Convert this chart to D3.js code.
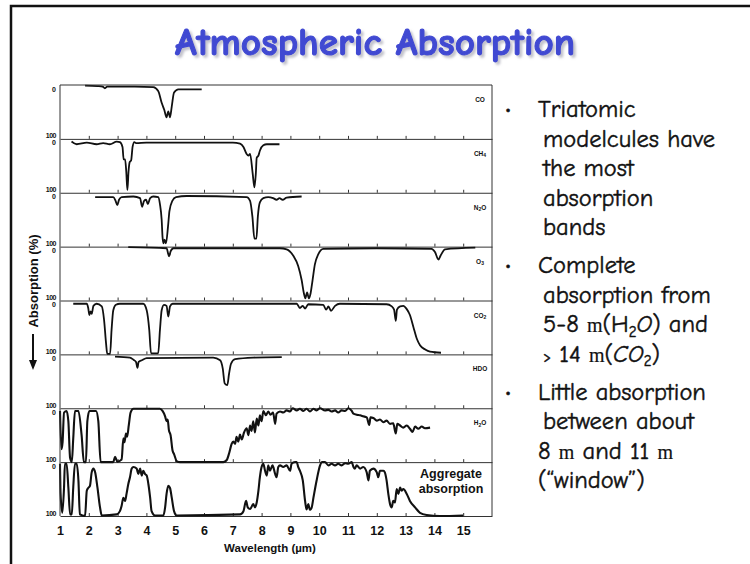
<!DOCTYPE html>
<html>
<head>
<meta charset="utf-8">
<script src="https://cdn.jsdelivr.net/npm/d3@7"></script>
<style>
  body { margin: 0; background: #fff; }
  svg { display: block; }
</style>
</head>
<body>
<svg id="slide" width="750" height="564"></svg>
<script>
/* wavelength ticks (µm) */
const wavelengthTicks = d3.range(1, 16);

/* absorption (%) vs wavelength (µm) */
const coBand = [[1.87,1],[2.3,2],[2.48,3],[2.56,6],[2.64,3],[3.0,3],[3.6,3],[4.24,4],[4.41,11],[4.53,33],[4.62,46],[4.7,60],[4.76,49],[4.82,60],[4.88,40],[4.96,14],[5.11,8],[5.5,8],[5.92,8]];
const ch4Band = [[1.40,5],[1.58,10],[1.93,7],[2.27,10],[2.5,8],[2.73,10],[2.97,5],[3.08,6],[3.17,15],[3.21,38],[3.26,38],[3.3,60],[3.34,95],[3.38,60],[3.42,43],[3.47,40],[3.52,15],[3.58,6],[3.64,8],[4.0,7],[5.0,7],[6.0,7],[7.0,7],[7.25,9],[7.37,15],[7.48,28],[7.54,31],[7.6,28],[7.69,64],[7.75,90],[7.8,64],[7.83,35],[7.89,31],[7.94,22],[8.06,12],[8.18,10],[8.62,10]];
const n2oBand = [[2.22,8],[2.85,8],[2.93,15],[2.99,23],[3.05,13],[3.14,8],[3.55,7],[3.78,10],[3.85,26],[3.92,15],[3.99,13],[4.05,21],[4.13,10],[4.24,7],[4.41,8],[4.47,21],[4.53,50],[4.56,82],[4.59,94],[4.63,87],[4.68,94],[4.75,63],[4.8,34],[4.9,15],[5.03,8],[5.4,6],[7.48,8],[7.6,15],[7.68,44],[7.75,85],[7.82,85],[7.87,44],[7.94,18],[8.06,10],[8.23,8],[8.4,10],[8.52,13],[8.62,10],[8.73,13],[8.87,9],[9.39,7]];
const o3Band = [[3.37,1],[4.7,3],[4.76,14],[4.79,18],[4.84,9],[4.94,3],[6.0,3],[8.63,3],[8.87,5],[9.1,17],[9.27,36],[9.39,62],[9.47,87],[9.52,96],[9.58,85],[9.64,96],[9.7,87],[9.77,62],[9.85,33],[9.97,14],[10.14,4],[12,3],[13.9,4],[14.02,10],[14.14,24],[14.22,16],[14.37,5],[15.42,2]];
const co2Band = [[1.46,6],[1.93,6],[1.98,14],[2.02,27],[2.06,20],[2.1,25],[2.16,10],[2.27,6],[2.45,11],[2.53,36],[2.6,80],[2.64,99],[2.74,99],[2.79,55],[2.85,18],[2.94,8],[3.08,6],[3.89,6],[4.01,18],[4.1,55],[4.16,98],[4.41,98],[4.47,55],[4.53,18],[4.61,8],[4.7,10],[4.76,30],[4.82,11],[4.91,6],[9.22,6],[9.33,14],[9.43,10],[9.51,15],[9.62,7],[10.14,8],[10.24,17],[10.32,11],[10.41,19],[10.55,10],[10.72,6],[12.34,7],[12.52,11],[12.6,17],[12.66,38],[12.7,17],[12.81,11],[12.92,10],[13.04,16],[13.15,27],[13.27,49],[13.39,71],[13.5,83],[13.68,91],[13.85,95],[14.23,97]];
const hdoBand = [[2.91,4],[3.43,6],[3.55,10],[3.64,14],[3.69,25],[3.73,14],[3.84,11],[4.01,7],[6.32,6],[6.56,11],[6.65,26],[6.72,54],[6.81,57],[6.87,36],[6.94,17],[7.08,9],[7.71,6],[8.7,5]];
const h2oBand = [[1.0,5],[1.05,76],[1.09,63],[1.14,8],[1.23,5],[1.29,24],[1.35,92],[1.41,100],[1.46,56],[1.52,5],[1.64,5],[1.75,50],[1.83,100],[1.9,100],[1.95,24],[2.02,5],[2.25,5],[2.33,24],[2.41,100],[2.85,100],[2.91,90],[2.99,99],[3.14,95],[3.2,56],[3.24,63],[3.29,47],[3.33,53],[3.39,31],[3.45,8],[3.55,1],[4.47,1],[4.56,5],[4.65,15],[4.7,24],[4.74,21],[4.78,40],[4.84,50],[4.91,79],[4.96,85],[5.05,98],[5.17,100],[6.67,100],[6.79,96],[6.88,82],[6.96,66],[7.02,62],[7.08,66],[7.13,53],[7.19,62],[7.25,49],[7.31,58],[7.39,45],[7.48,37],[7.54,50],[7.6,32],[7.65,42],[7.71,24],[7.77,45],[7.83,19],[7.89,32],[7.94,13],[8.0,24],[8.06,5],[8.15,13],[8.23,6],[8.31,12],[8.4,8],[8.47,29],[8.52,10],[8.64,6],[8.75,8],[8.87,4],[8.99,6],[9.08,0],[9.22,4],[9.33,1],[9.45,5],[9.56,1],[9.68,6],[9.8,1],[9.91,4],[10.03,0],[10.2,4],[10.32,3],[10.43,6],[10.55,4],[10.66,8],[10.78,4],[10.9,5],[11.01,0],[11.13,5],[11.19,10],[11.3,12],[11.42,13],[11.53,15],[11.65,17],[11.74,31],[11.78,17],[11.88,18],[12.0,23],[12.11,21],[12.23,26],[12.34,23],[12.46,29],[12.57,28],[12.66,47],[12.71,29],[12.81,32],[12.92,36],[13.04,32],[13.15,38],[13.24,44],[13.33,34],[13.44,38],[13.56,34],[13.67,37],[13.85,36]];
const aggregateBand = [[1.0,3],[1.02,59],[1.08,94],[1.14,47],[1.17,3],[1.23,3],[1.29,47],[1.35,97],[1.41,97],[1.46,47],[1.52,3],[1.58,3],[1.64,34],[1.69,97],[1.87,100],[1.93,53],[1.98,48],[2.04,44],[2.1,19],[2.16,12],[2.22,19],[2.3,47],[2.39,84],[2.45,99],[2.97,97],[3.08,91],[3.14,81],[3.2,66],[3.26,72],[3.31,59],[3.37,41],[3.43,28],[3.49,12],[3.55,9],[3.66,12],[3.72,22],[3.78,12],[3.84,25],[3.89,16],[3.95,22],[4.01,25],[4.07,41],[4.13,66],[4.18,91],[4.3,99],[4.59,99],[4.65,84],[4.7,59],[4.76,44],[4.82,48],[4.88,66],[4.96,91],[5.05,99],[7.25,97],[7.37,91],[7.46,72],[7.52,84],[7.6,87],[7.71,78],[7.77,84],[7.83,75],[7.89,53],[7.94,28],[8.0,9],[8.06,3],[8.12,16],[8.18,25],[8.23,6],[8.29,16],[8.38,6],[8.47,22],[8.52,28],[8.58,9],[8.64,6],[8.75,9],[8.87,6],[8.99,16],[9.04,3],[9.16,0],[9.22,0],[9.27,9],[9.33,16],[9.43,34],[9.51,72],[9.56,88],[9.62,78],[9.68,89],[9.74,84],[9.8,66],[9.91,34],[10.03,6],[10.09,0],[10.2,0],[10.32,6],[10.43,3],[10.55,6],[10.66,3],[10.78,6],[10.9,2],[11.01,3],[11.13,0],[11.19,9],[11.24,12],[11.3,6],[11.42,12],[11.53,9],[11.65,19],[11.71,34],[11.76,16],[11.88,12],[12.0,19],[12.05,28],[12.11,16],[12.23,16],[12.28,19],[12.34,34],[12.4,59],[12.46,78],[12.52,84],[12.57,72],[12.63,75],[12.69,50],[12.75,59],[12.81,47],[12.86,53],[12.92,50],[13.04,59],[13.15,72],[13.33,84],[13.5,94],[13.73,98],[14.19,100],[15.0,99]];

/* panel names: [main, subscript, rest] */
const gasNames = [["CO","",""],["CH","4",""],["N","2","O"],["O","3",""],["CO","2",""],["HDO","",""],["H","2","O"]];

/* bullet text, one entry per line; kinds: s = subscript, m = unit glyph, i = italic, g = small sign */
const bulletLines = [
  { first: true,  parts: [["Triatomic"]] },
  { first: false, parts: [["modelcules have"]] },
  { first: false, parts: [["the most"]] },
  { first: false, parts: [["absorption"]] },
  { first: false, parts: [["bands"]] },
  { first: true,  parts: [["Complete"]] },
  { first: false, parts: [["absorption from"]] },
  { first: false, parts: [["5-8 "],["m","m"],["(H"],["2","s"],["O","i"],[") and"]] },
  { first: false, parts: [[">","g"],[" 14 "],["m","m"],["("],["CO","i"],["2","s"],[")"]] },
  { first: true,  parts: [["Little absorption"]] },
  { first: false, parts: [["between about"]] },
  { first: false, indent: 0, parts: [["8 "],["m","m"],[" and 11 "],["m","m"]] },
  { first: false, indent: 0, parts: [["(\u201cwindow\u201d)"]] }
];

const svg = d3.select("#slide");

/* soft shadow for the title */
svg.append("defs").append("filter").attr("id", "shadow")
  .attr("x", "-5%").attr("y", "-20%").attr("width", "110%").attr("height", "150%")
  .append("feDropShadow")
  .attr("dx", 2.5).attr("dy", 2.5).attr("stdDeviation", 0.8)
  .attr("flood-color", "#9a9aa8").attr("flood-opacity", 0.6);

/* slide frame */
svg.append("path")
  .attr("d", "M11,566V6H752")
  .attr("fill", "none")
  .attr("stroke", "#111")
  .attr("stroke-width", 2.5);

/* title */
const comicFont = "'Comic Sans MS','Comic Neue','DejaVu Sans',sans-serif";
svg.append("text")
  .attr("x", 375).attr("y", 55)
  .attr("text-anchor", "middle")
  .attr("font-family", comicFont)
  .attr("font-weight", "bold")
  .attr("font-size", 38)
  .attr("textLength", 400)
  .attr("lengthAdjust", "spacingAndGlyphs")
  .attr("fill", "#4049d2")
  .attr("stroke", "#4049d2")
  .attr("stroke-width", 1.1)
  .attr("stroke-linejoin", "round")
  .attr("filter", "url(#shadow)")
  .text("Atmospheric Absorption");

/* chart */
const panels = [coBand, ch4Band, n2oBand, o3Band, co2Band, hdoBand, h2oBand, aggregateBand];
const x = d3.scaleLinear().domain([1, 16]).range([60, 492]);
const rows = d3.scaleBand().domain(d3.range(panels.length)).range([85, 516]);
const chartBottom = rows(panels.length - 1) + rows.bandwidth();
const chartFont = "'Liberation Sans', Arial, sans-serif";

const chart = svg.append("g").attr("font-family", chartFont).attr("fill", "#111");

const line = d3.line().curve(d3.curveMonotoneX);

panels.forEach((values, i) => {
  const top = rows(i), bottom = top + rows.bandwidth();
  const y = d3.scaleLinear().domain([0, 100]).range([top, bottom]);
  const g = chart.append("g");

  /* separator + inward ticks */
  const ax = g.append("g")
    .attr("transform", `translate(0,${bottom})`)
    .call(d3.axisBottom(x).tickValues(d3.range(2, 16)).tickSize(-3).tickSizeOuter(0).tickFormat(""));
  ax.selectAll("path, line").attr("stroke", "#333").attr("stroke-width", 1);

  /* 0 / 100 labels */
  g.append("text").attr("x", 56).attr("y", y(0) + 6.5)
    .attr("text-anchor", "end").attr("font-size", 7).attr("font-weight", "bold").text("0");
  g.append("text").attr("x", 56).attr("y", y(100) - 0.5)
    .attr("text-anchor", "end").attr("font-size", 7).attr("font-weight", "bold")
    .attr("letter-spacing", -0.5).text("100");

  /* curve */
  g.append("path")
    .datum(values)
    .attr("fill", "none")
    .attr("stroke", "#111")
    .attr("stroke-width", i >= 6 ? 2.1 : 1.8)
    .attr("stroke-linejoin", "round")
    .attr("d", line.x(d => x(d[0])).y(d => y(d[1])));

  /* gas label */
  if (i < gasNames.length) {
    const [a, sub, rest] = gasNames[i];
    const t = g.append("text").attr("x", 480).attr("y", top + 17)
      .attr("text-anchor", "middle").attr("font-size", 6.5).attr("font-weight", "bold");
    t.append("tspan").text(a);
    if (sub) t.append("tspan").attr("font-size", 5).attr("dy", 1.5).text(sub);
    if (rest) t.append("tspan").attr("dy", -1.5).text(rest);
  } else {
    ["Aggregate", "absorption"].forEach((w, k) => {
      g.append("text").attr("x", 451).attr("y", top + 16 + k * 15)
        .attr("text-anchor", "middle").attr("font-size", 12.5).attr("font-weight", "bold").text(w);
    });
  }
});

/* top border and sides */
chart.append("path")
  .attr("d", `M${x(1)},${chartBottom}V${rows(0)}H${x(16)}V${chartBottom}`)
  .attr("fill", "none").attr("stroke", "#333").attr("stroke-width", 1);

/* wavelength labels */
const xAxis = chart.append("g")
  .attr("transform", `translate(0,${chartBottom})`)
  .call(d3.axisBottom(x).tickValues(wavelengthTicks).tickSize(0).tickPadding(10));
xAxis.select(".domain").remove();
xAxis.selectAll("text").attr("font-family", chartFont).attr("font-size", 12.5).attr("font-weight", "bold").attr("fill", "#111");

chart.append("text").attr("x", 270).attr("y", 552)
  .attr("text-anchor", "middle").attr("font-size", 11.5).attr("font-weight", "bold")
  .text("Wavelength (\u00b5m)");

/* y title with downward arrow */
chart.append("text")
  .attr("transform", "translate(37.5,281) rotate(-90)")
  .attr("text-anchor", "middle").attr("font-size", 13).attr("font-weight", "bold")
  .text("Absorption (%)");
chart.append("path").attr("d", "M33,334V362").attr("stroke", "#111").attr("stroke-width", 2);
chart.append("path").attr("d", "M29,360L33,370L37,360Z").attr("fill", "#111");

/* bullets */
const bulletG = svg.append("g").attr("font-family", comicFont).attr("font-size", 24.5)
  .attr("fill", "#111").attr("stroke", "#111").attr("stroke-width", 0.45);
let yLine = 117;
bulletLines.forEach((ln, k) => {
  if (ln.first && k > 0) yLine += 8.5;
  if (ln.first) {
    bulletG.append("text").attr("x", 508).attr("y", yLine - 2).attr("text-anchor", "middle")
      .attr("font-size", 18).text("\u2022");
  }
  const t = bulletG.append("text").attr("x", ln.first || ln.indent === 0 ? 538 : 543).attr("y", yLine)
    .style("white-space", "pre");
  let shifted = false;
  ln.parts.forEach(([txt, kind]) => {
    const s = t.append("tspan").text(txt);
    if (kind === "s") { s.attr("font-size", 15).attr("dy", 4.5); shifted = true; return; }
    if (shifted) { s.attr("dy", -4.5); shifted = false; }
    if (kind === "m") s.attr("font-family", "'Liberation Serif', serif").attr("font-size", 20).attr("stroke-width", 0.2);
    if (kind === "i") s.attr("font-style", "italic");
    if (kind === "g") s.attr("font-size", 15);
  });
  yLine += 29.5;
});
</script>
</body>
</html>
